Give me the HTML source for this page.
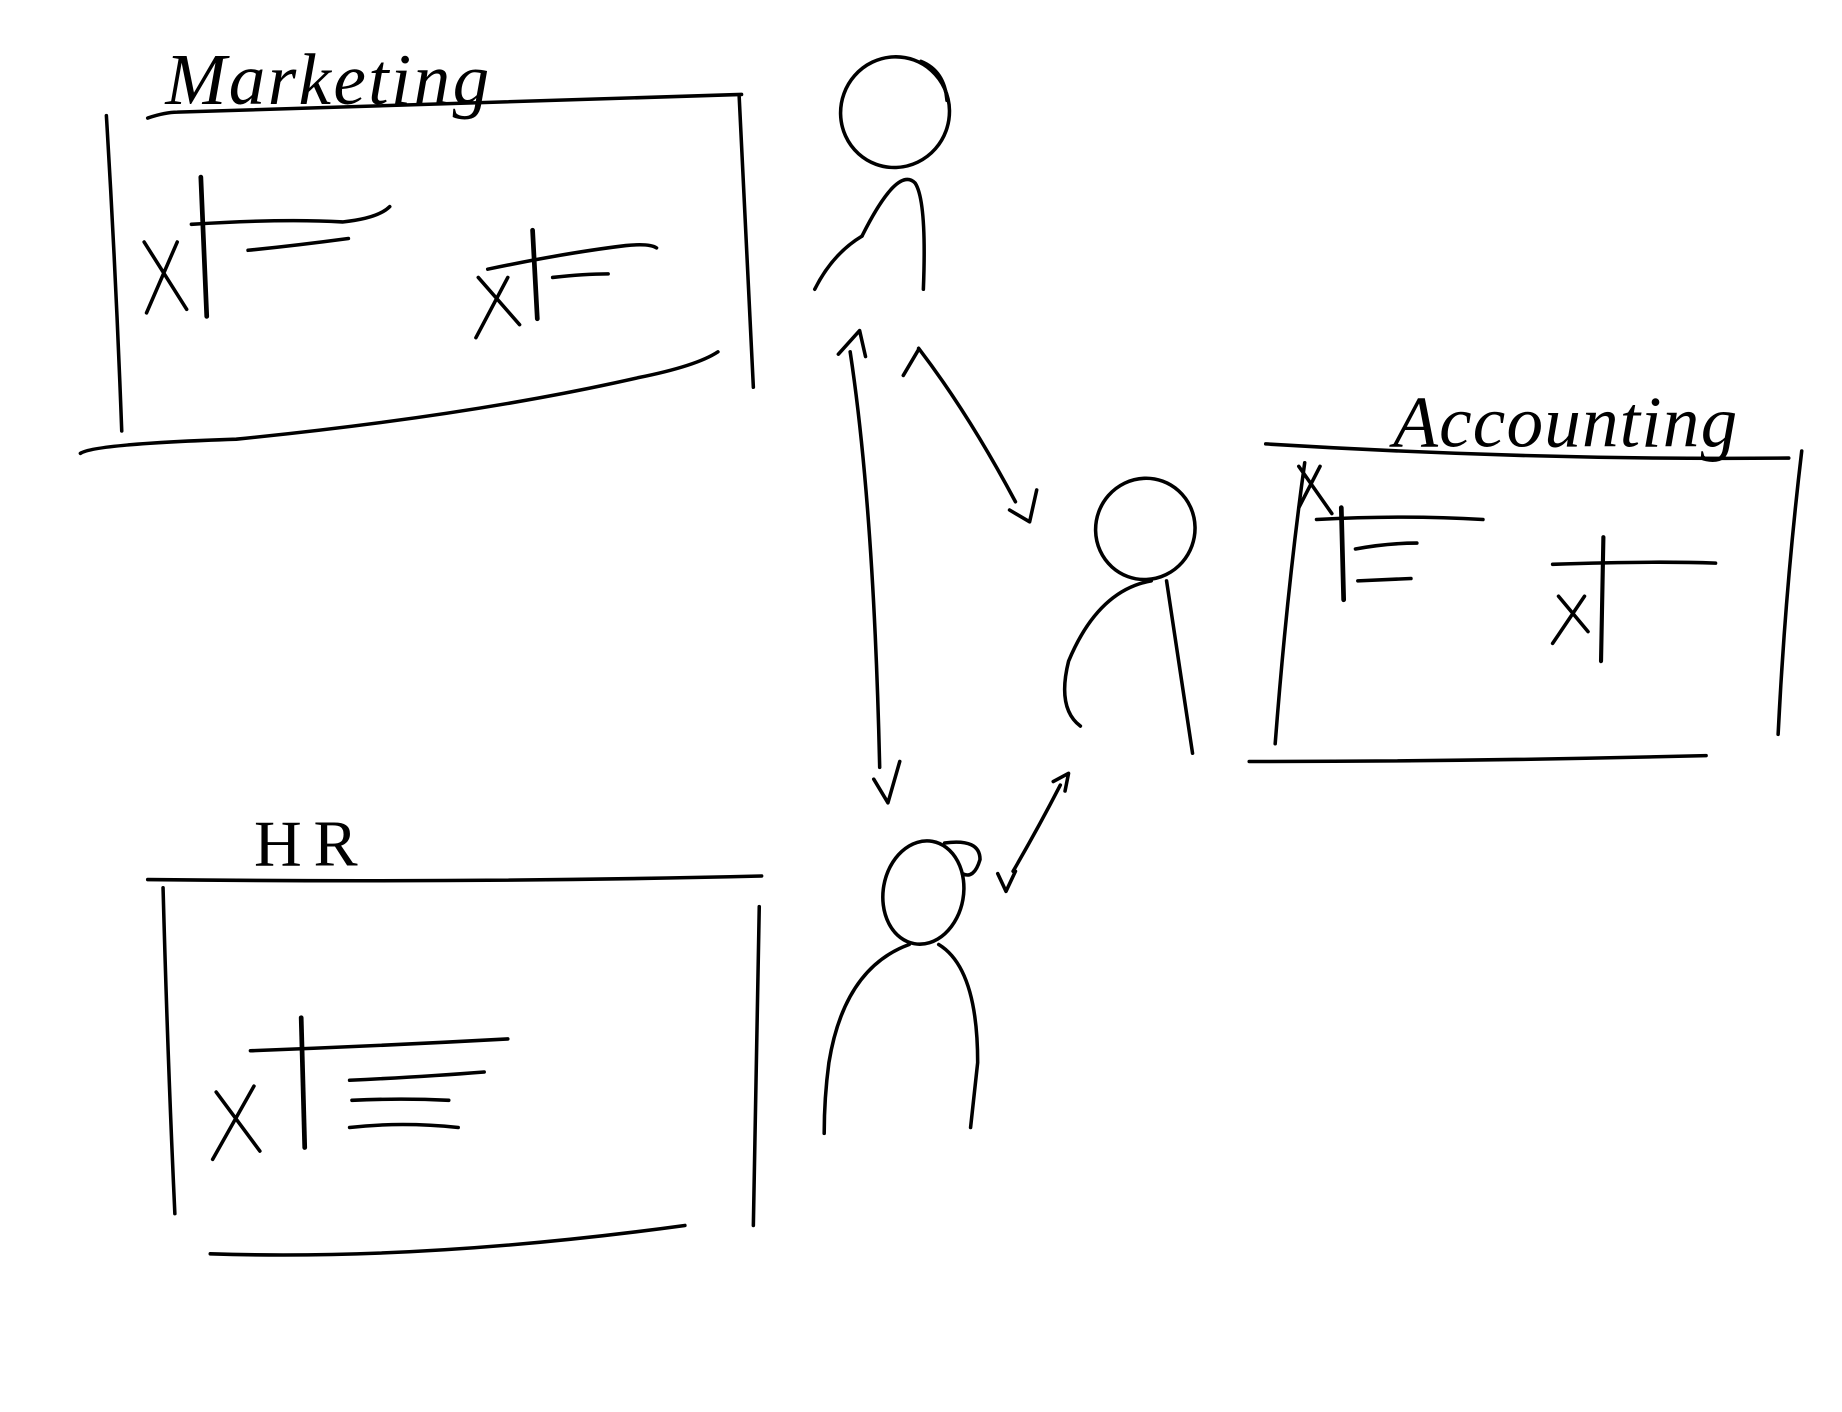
<!DOCTYPE html>
<html><head><meta charset="utf-8"><style>
html,body{margin:0;padding:0;background:#fff;width:1842px;height:1412px;overflow:hidden}
svg{display:block}
</style></head><body>
<svg width="1842" height="1412" viewBox="0 0 1560 1196" xmlns="http://www.w3.org/2000/svg">
<rect width="1560" height="1196" fill="#fff"/>
<g fill="none" stroke="#000" stroke-width="3" stroke-linecap="round" stroke-linejoin="round">
<!-- Marketing box -->
<path d="M125 100 Q140 95 150 95 L628 80"/>
<path d="M90 98 Q98 230 103 365"/>
<path d="M626 82 Q632 200 638 328"/>
<path d="M68 384 Q80 376 200 372 Q400 352 540 320 Q590 310 608 298"/>
<path d="M122 205 L158 262 M150 205 L124 265"/>
<path d="M170 150 L175 268" stroke-width="4"/>
<path d="M162 190 Q240 185 290 188 Q320 185 330 175"/>
<path d="M210 212 Q250 208 295 202"/>
<path d="M405 235 L440 275 M430 235 L403 286"/>
<path d="M451 195 L455 270" stroke-width="4"/>
<path d="M413 228 Q480 214 530 208 Q550 206 556 210"/>
<path d="M468 235 Q495 232 515 232"/>
<!-- Person 1 -->
<ellipse cx="758" cy="95" rx="46" ry="47" transform="rotate(20 758 95)"/>
<path d="M780 52 Q800 60 802 85"/>
<path d="M730 200 Q760 140 775 155 Q785 170 782 245"/>
<path d="M730 200 Q705 215 690 245"/>
<!-- Arrows -->
<path d="M720 298 Q740 430 745 650"/>
<path d="M710 300 L728 280 L733 302"/>
<path d="M740 660 L752 680 L762 645"/>
<path d="M778 295 Q820 350 860 425"/>
<path d="M765 318 L778 296"/>
<path d="M855 432 L872 442 L878 415"/>
<path d="M898 665 Q880 700 858 738"/>
<path d="M892 662 L905 655 L902 670"/>
<path d="M845 740 L852 755 L860 738"/>
<!-- Person 2 -->
<ellipse cx="970" cy="448" rx="42" ry="43" transform="rotate(20 970 448)"/>
<path d="M975 492 Q930 500 905 560 Q895 600 915 615"/>
<path d="M988 492 Q998 560 1010 638"/>
<!-- Accounting box -->
<path d="M1072 376 Q1300 390 1515 388"/>
<path d="M1105 392 Q1090 500 1080 630"/>
<path d="M1526 382 Q1512 500 1506 622"/>
<path d="M1058 645 Q1250 645 1445 640"/>
<path d="M1100 395 L1128 435 M1118 395 L1100 430"/>
<path d="M1136 430 L1138 508" stroke-width="4"/>
<path d="M1115 440 Q1190 436 1256 440"/>
<path d="M1148 465 Q1175 460 1200 460"/>
<path d="M1150 492 L1195 490"/>
<path d="M1358 455 L1356 560" stroke-width="3.5"/>
<path d="M1315 478 Q1400 475 1453 477"/>
<path d="M1320 505 L1345 535 M1342 505 L1315 545"/>
<!-- HR box -->
<path d="M125 745 Q400 748 645 742"/>
<path d="M138 752 Q142 900 148 1028"/>
<path d="M643 768 Q640 900 638 1038"/>
<path d="M178 1062 Q360 1068 580 1038"/>
<path d="M183 925 L220 975 M215 920 L180 982"/>
<path d="M255 862 L258 972" stroke-width="4"/>
<path d="M212 890 Q320 886 430 880"/>
<path d="M296 915 Q360 912 410 908"/>
<path d="M298 932 Q340 930 380 932"/>
<path d="M296 955 Q340 950 388 955"/>
<!-- Person 3 -->
<ellipse cx="782" cy="756" rx="34" ry="44" transform="rotate(10 782 756)"/>
<path d="M800 714 Q830 710 830 728 Q825 745 815 740"/>
<path d="M770 800 Q715 820 702 900 Q698 930 698 960"/>
<path d="M795 800 Q828 820 828 900 L822 955"/>
</g>
<g font-family="'Liberation Serif', serif" font-style="italic" fill="#000">
<text x="140" y="88" font-size="62" letter-spacing="2">Marketing</text>
<text x="1180" y="378" font-size="62" letter-spacing="1">Accounting</text>
<text x="215" y="733" font-size="56" font-style="normal" letter-spacing="10">HR</text>
</g>
</svg>
</body></html>
